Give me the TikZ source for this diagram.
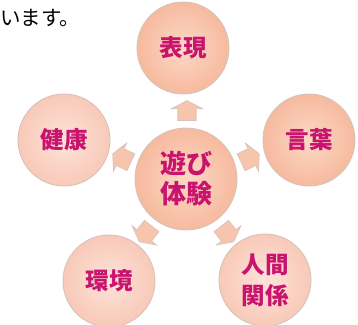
\documentclass[tikz,border=0pt]{standalone}
\usepackage{fontspec}
\newfontfamily\jp{Noto Sans CJK JP}
\usetikzlibrary{shapes.arrows,shadings}
\definecolor{txtpink}{HTML}{C8146E}
\definecolor{peachin}{HTML}{FDD8C6}
\definecolor{peachout}{HTML}{F6BA9E}
\definecolor{pinkin}{HTML}{FDE3DA}
\definecolor{pinkout}{HTML}{F8C9B8}
\definecolor{rimgray}{HTML}{D6C4BC}
\tikzset{
  x=1pt,y=1pt,
  ball/.style={circle, minimum size=92pt, inner sep=0pt, draw=rimgray, line width=0.9pt,
    inner color=peachin, outer color=peachout, text=txtpink,
    font=\jp\bfseries\fontsize{23.5}{31}\selectfont, align=center},
  paleball/.style={ball, inner color=pinkin, outer color=pinkout},
  bigball/.style={ball, minimum size=102pt, font=\jp\bfseries\fontsize{26}{30}\selectfont},
  blockarrow/.style={single arrow, draw=rimgray, line width=0.7pt, fill=peachout!85!white,
    inner xsep=0pt, inner ysep=8.5pt, minimum height=20pt, minimum width=31pt,
    single arrow head extend=6pt, single arrow tip angle=125},
}
\begin{document}
\begin{tikzpicture}
\useasboundingbox (0,0) rectangle (358,-324);
\node[anchor=base west, inner sep=0pt, font=\jp\fontsize{20.5}{24}\selectfont] (intro) at (0,-25) {います。};
\node[bigball] (play) at (186,-179) {遊び\\体験};
\node[ball] (hyogen) at (183,-48) {表現};
\node[paleball] (kenko) at (64,-140) {健康};
\node[ball] (kotoba) at (309,-140) {言葉};
\node[paleball] (kankyo) at (109,-281) {環境};
\node[paleball] (ningen) at (265,-280) {人間\\関係};
\node[blockarrow, rotate=90] (aup) at (187,-113) {};
\node[blockarrow, rotate=155] (aleft) at (124,-159) {};
\node[blockarrow, rotate=25] (aright) at (248,-159) {};
\node[blockarrow, rotate=232] (adl) at (147,-232) {};
\node[blockarrow, rotate=308] (adr) at (226,-232) {};
\end{tikzpicture}
\end{document}
